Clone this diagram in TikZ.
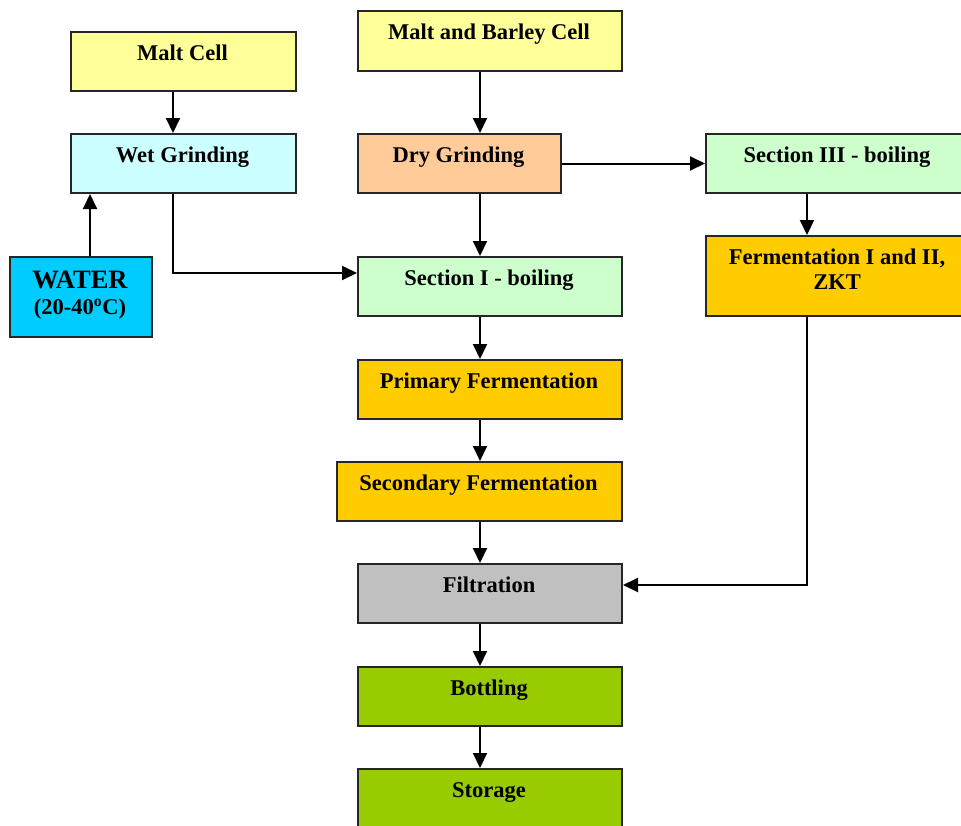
\documentclass[tikz,border=0pt]{standalone}
\usepackage{fontspec}
\setmainfont{Liberation Serif}
\usetikzlibrary{arrows.meta}
\definecolor{cyellow}{RGB}{255,255,153}
\definecolor{ccyan}{RGB}{204,255,255}
\definecolor{cwater}{RGB}{0,204,255}
\definecolor{cpeach}{RGB}{255,204,153}
\definecolor{cmint}{RGB}{204,255,204}
\definecolor{corange}{RGB}{255,204,0}
\definecolor{cgray}{RGB}{192,192,192}
\definecolor{cgreen}{RGB}{153,204,0}
\begin{document}
\begin{tikzpicture}[x=1pt,y=-1pt,
  box/.style={draw=black!85, line width=2pt, inner sep=0pt, anchor=north west},
  lbl/.style={anchor=base, inner sep=0pt, font=\fontsize{22.5}{26}\selectfont\bfseries},
  big/.style={anchor=base, inner sep=0pt, font=\fontsize{26.5}{30}\selectfont\bfseries},
  arr/.style={line width=2pt, -{Triangle[length=15pt,width=14pt]}}]
\useasboundingbox (0,0) rectangle (961,825);
\clip (0,0) rectangle (961,825);
% boxes
\node[box, fill=cyellow, minimum width=225pt, minimum height=59pt] (malt) at (70,31) {};
\node[box, fill=ccyan, minimum width=225pt, minimum height=59pt] (wet) at (70,133) {};
\node[box, fill=cwater, minimum width=142pt, minimum height=80pt] (water) at (9,256) {};
\node[box, fill=cyellow, minimum width=264pt, minimum height=60pt] (mb) at (357,10) {};
\node[box, fill=cpeach, minimum width=203pt, minimum height=59pt] (dry) at (357,133) {};
\node[box, fill=cmint, minimum width=266pt, minimum height=59pt] (sec3) at (705,133) {};
\node[box, fill=corange, minimum width=266pt, minimum height=80pt] (ferm) at (705,235) {};
\node[box, fill=cmint, minimum width=264pt, minimum height=59pt] (sec1) at (357,256) {};
\node[box, fill=corange, minimum width=264pt, minimum height=59pt] (prim) at (357,359) {};
\node[box, fill=corange, minimum width=285pt, minimum height=59pt] (secf) at (336,461) {};
\node[box, fill=cgray, minimum width=264pt, minimum height=59pt] (filt) at (357,563) {};
\node[box, fill=cgreen, minimum width=264pt, minimum height=59pt] (bott) at (357,666) {};
\node[box, fill=cgreen, minimum width=264pt, minimum height=70pt] (stor) at (357,768) {};
% labels
\node[lbl] (malt-t) at (182.5,60) {Malt Cell};
\node[lbl] (wet-t) at (182.5,162) {Wet Grinding};
\node[big] (water-t1) at (80,288) {WATER};
\node[lbl] (water-t2) at (80,314) {(20-40\textsuperscript{o}C)};
\node[lbl] (mb-t) at (489,39) {Malt and Barley Cell};
\node[lbl] (dry-t) at (458.5,162) {Dry Grinding};
\node[lbl] (sec3-t) at (837,162) {Section III - boiling};
\node[lbl] (ferm-t1) at (837,264) {Fermentation I and II,};
\node[lbl] (ferm-t2) at (837,289) {ZKT};
\node[lbl] (sec1-t) at (489,285) {Section I - boiling};
\node[lbl] (prim-t) at (489,388) {Primary Fermentation};
\node[lbl] (secf-t) at (478.5,490) {Secondary Fermentation};
\node[lbl] (filt-t) at (489,592) {Filtration};
\node[lbl] (bott-t) at (489,695) {Bottling};
\node[lbl] (stor-t) at (489,797) {Storage};
% connectors
\draw[arr] (173,0 |- malt.south) -- (173,0 |- wet.north);
\draw[arr] (90,0 |- water.north) -- (90,0 |- wet.south);
\draw[arr] (173,0 |- wet.south) |- (sec1.west |- 0,273);
\draw[arr] (480,0 |- mb.south) -- (480,0 |- dry.north);
\draw[arr] (480,0 |- dry.south) -- (480,0 |- sec1.north);
\draw[arr] (dry.east) -- (sec3.west);
\draw[arr] (807,0 |- sec3.south) -- (807,0 |- ferm.north);
\draw[arr] (807,0 |- ferm.south) |- (filt.east |- 0,585);
\draw[arr] (480,0 |- sec1.south) -- (480,0 |- prim.north);
\draw[arr] (480,0 |- prim.south) -- (480,0 |- secf.north);
\draw[arr] (480,0 |- secf.south) -- (480,0 |- filt.north);
\draw[arr] (480,0 |- filt.south) -- (480,0 |- bott.north);
\draw[arr] (480,0 |- bott.south) -- (480,0 |- stor.north);
\end{tikzpicture}
\end{document}
